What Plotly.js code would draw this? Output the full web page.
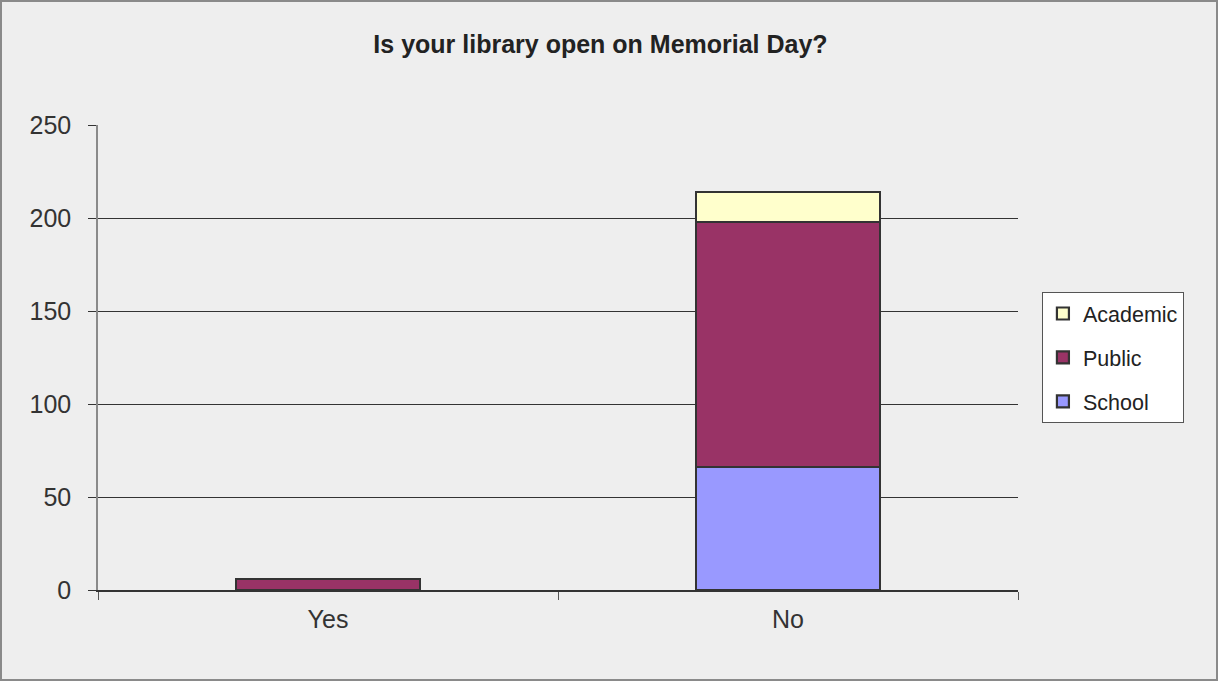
<!DOCTYPE html>
<html><head><meta charset="utf-8">
<script src="https://cdn.plot.ly/plotly-3.0.1.min.js"></script>
<style>
html,body{margin:0;padding:0;background:#eeeeee;}
#chart{width:1214px;height:677px;border:2px solid #8a8a8a;}
</style></head>
<body><div id="chart"></div>
<script>
const categories = ["Yes", "No"];
const school = [0, 66];
const publicLib = [6, 132];
const academic = [0, 16];
const seriesNames = ["School", "Public", "Academic"];
const yTicks = [0, 50, 100, 150, 200, 250];

const colors = ["#9999ff", "#993366", "#ffffcc"];
const ranks = [3, 2, 1];
const vals = [school, publicLib, academic];
const traces = vals.map((v, i) => ({
  type: "bar", x: categories, y: v, name: seriesNames[i],
  legendgroup: seriesNames[i], legendrank: ranks[i],
  marker: {color: colors[i], line: {color: "#333333", width: 2.2}},
  hoverinfo: "x+y+name"
}));

const layout = {
  width: 1214, height: 677,
  paper_bgcolor: "#eeeeee", plot_bgcolor: "#eeeeee",
  font: {family: "Liberation Sans, Arial, sans-serif", color: "#333333"},
  barmode: "stack", bargap: 0.6,
  margin: {l: 96, r: 198, t: 123, b: 89, pad: 0},
  title: {text: "<b>Is your library open on Memorial Day?</b>", x: 0.493, xanchor: "center", y: 0.937, yanchor: "middle",
          font: {size: 25, color: "#222222"}},
  xaxis: {type: "category", tickson: "boundaries", ticks: "outside", ticklen: 8, tickcolor: "#555555",
          showline: true, linecolor: "#333333", linewidth: 1.5, tickfont: {size: 25, color: "#333333"},
          ticklabelstandoff: 6, showgrid: false, zeroline: false},
  yaxis: {range: [0, 250], tickvals: yTicks, ticks: "outside", ticklen: 8, tickcolor: "#333333",
          showline: true, linecolor: "#8a8a8a", linewidth: 1.5, showgrid: true, gridcolor: "#333333", gridwidth: 1,
          zeroline: false, tickfont: {size: 25, color: "#333333"}, ticklabelstandoff: 12},
  legend: {x: 1.026, xanchor: "left", y: 0.5, yanchor: "middle", bgcolor: "#ffffff",
           bordercolor: "#555555", borderwidth: 1, font: {size: 21.5, color: "#222222"},
           traceorder: "grouped", tracegroupgap: 13, itemwidth: 30,
           entrywidth: 155, entrywidthmode: "pixels"}
};
Plotly.newPlot("chart", traces, layout, {displayModeBar: false});
</script></body></html>
